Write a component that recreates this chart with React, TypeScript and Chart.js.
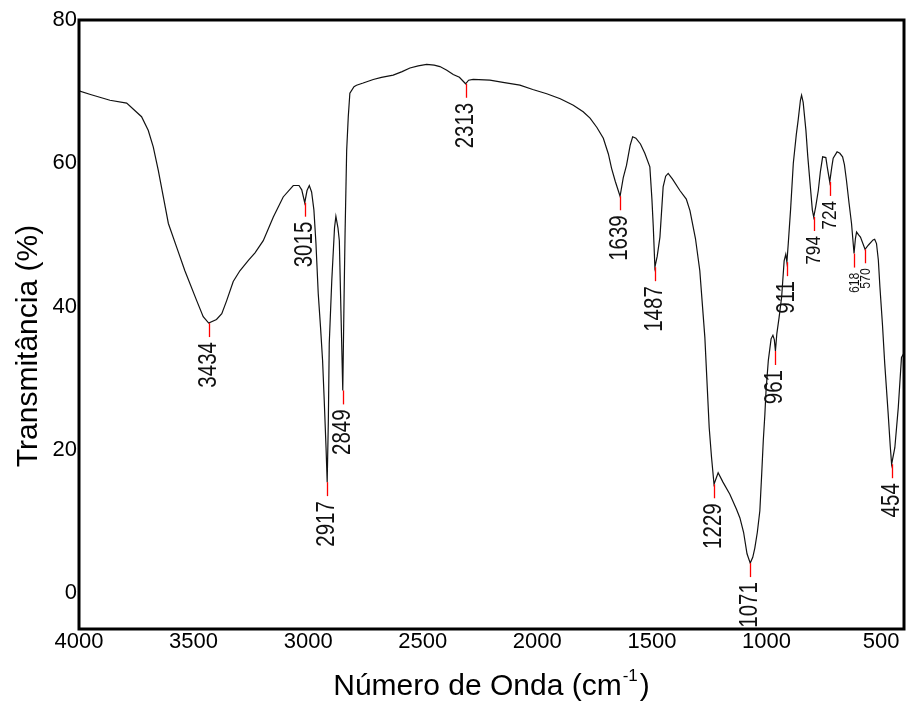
import React, { useEffect, useRef } from 'react';
import { Chart, registerables } from 'chart.js';

Chart.register(...registerables);

// Wavenumber (cm-1), descending
const wavenumbers = [
  4000, 3950, 3865, 3792, 3727, 3698, 3676, 3654, 3632, 3610, 3574, 3538, 3486, 3458, 3434, 3400, 3377,
  3356, 3327, 3298, 3260, 3232, 3196, 3152, 3109, 3065, 3040, 3028, 3015, 3005, 2995, 2985, 2975, 2966,
  2956, 2946, 2937, 2930, 2922, 2917, 2912, 2908, 2897, 2885, 2879, 2870, 2864, 2857, 2849, 2843, 2839,
  2832, 2825, 2818, 2800, 2789, 2760, 2716, 2680, 2629, 2590, 2556, 2520, 2483, 2450, 2425, 2395, 2367,
  2340, 2313, 2300, 2280, 2207, 2150, 2076, 2020, 1959, 1900, 1843, 1800, 1770, 1740, 1712, 1690, 1676,
  1660, 1639, 1625, 1611, 1595, 1584, 1570, 1550, 1531, 1509, 1500, 1494, 1487, 1477, 1465, 1451, 1440,
  1429, 1410, 1378, 1350, 1334, 1310, 1291, 1269, 1250, 1240, 1229, 1211, 1190, 1160, 1131, 1116, 1100,
  1085, 1071, 1060, 1051, 1040, 1029, 1021, 1014, 1007, 1002, 992, 980, 972, 966, 961, 955, 945, 934,
  923, 916, 911, 905, 895, 883, 870, 862, 852, 847, 840, 828, 820, 811, 800, 794, 785, 774, 765, 755,
  741, 735, 724, 715, 709, 692, 680, 668, 660, 651, 640, 629, 618, 612, 607, 598, 590, 570, 555, 535,
  528, 520, 512, 505, 494, 484, 469, 460, 454, 440, 425, 411, 400,
];

// Transmittance (%)
const transmittance = [
  70.1, 69.6, 68.8, 68.4, 66.5, 64.6, 62.3, 59.0, 55.3, 51.6, 48.3, 45.0, 40.8, 38.6, 37.7, 38.2, 39.0,
  40.8, 43.5, 45.0, 46.5, 47.5, 49.2, 52.5, 55.3, 56.9, 56.9, 56.3, 54.5, 56.2, 56.9, 56.0, 53.5, 48.8,
  41.8, 37.1, 32.4, 27.0, 20.3, 15.5, 24.0, 34.8, 43.6, 51.0, 52.6, 51.0, 49.2, 39.4, 28.3, 42.0, 50.2,
  61.8, 66.5, 69.8, 70.7, 70.9, 71.2, 71.7, 72.0, 72.3, 72.8, 73.3, 73.6, 73.8, 73.7, 73.5, 73.0, 72.4,
  72.0, 71.1, 71.6, 71.7, 71.6, 71.3, 70.9, 70.3, 69.7, 69.0, 68.1, 67.2, 66.3, 65.0, 63.5, 61.3, 59.3,
  57.5, 55.4, 58.0, 59.7, 62.5, 63.7, 63.5, 62.7, 61.4, 59.5, 55.0, 51.1, 45.5, 47.0, 49.7, 56.7, 58.2,
  58.6, 57.8, 56.2, 55.0, 53.4, 49.5, 45.0, 35.7, 23.1, 19.0, 15.2, 16.8, 15.5, 13.8, 11.7, 10.5, 8.5,
  5.5, 4.2, 5.0, 6.3, 8.5, 11.5, 16.6, 21.3, 25.0, 28.3, 32.5, 35.5, 36.0, 35.4, 33.8, 36.2, 38.5, 41.3,
  46.4, 47.3, 46.2, 48.8, 53.5, 60.0, 64.0, 66.0, 68.8, 69.5, 68.5, 64.6, 61.0, 57.6, 53.5, 52.5, 54.0, 56.2, 58.8, 60.9,
  60.8, 59.5, 57.4, 59.5, 60.7, 61.6, 61.4, 60.9, 59.8, 57.6, 54.5, 51.6, 47.4, 49.5, 50.4, 50.0, 49.7, 48.0, 48.6, 49.3,
  49.4, 48.8, 46.5, 42.7, 37.5, 32.0, 25.0, 20.5, 18.0, 20.3, 25.9, 32.9, 33.5,
];

// Annotated bands
const peakLabels = [3434, 3015, 2917, 2849, 2313, 1639, 1487, 1229, 1071, 961, 911, 794, 724, 618, 570, 454];

const xTicks = [4000, 3500, 3000, 2500, 2000, 1500, 1000, 500];
const yTicks = [0, 20, 40, 60, 80];

const xTitle = 'Número de Onda (cm';
const xTitleSup = '-1';
const xTitleEnd = ')';
const yTitle = 'Transmitância (%)';

const FONT = '"Liberation Sans", Arial, sans-serif';
const smallPeaks = new Set([618, 570]);
const mediumPeaks = new Set([794, 724]);

const decorPlugin = {
  id: 'decor',
  afterDatasetsDraw(chart: any) {
    const { ctx, scales } = chart;
    const xs = scales.x;
    const ys = scales.y;
    ctx.save();
    peakLabels.forEach((p) => {
      const i = wavenumbers.indexOf(p);
      if (i < 0) return;
      const px = Math.round(xs.getPixelForValue(p)) + 0.5;
      const py = ys.getPixelForValue(transmittance[i]);
      ctx.strokeStyle = '#ff0000';
      ctx.lineWidth = 1.3;
      ctx.beginPath();
      ctx.moveTo(px, py);
      ctx.lineTo(px, py + 14);
      ctx.stroke();
      const size = smallPeaks.has(p) ? 15 : mediumPeaks.has(p) ? 21 : 25;
      ctx.save();
      ctx.translate(px, py + 19);
      ctx.rotate(-Math.PI / 2);
      ctx.scale(0.82, 1);
      ctx.font = `${size}px ${FONT}`;
      ctx.fillStyle = '#111';
      ctx.textAlign = 'right';
      ctx.textBaseline = 'middle';
      ctx.fillText(String(p), 0, 0);
      ctx.restore();
    });
    ctx.restore();
  },
  afterDraw(chart: any) {
    const { ctx, chartArea } = chart;
    ctx.save();
    ctx.strokeStyle = '#000';
    ctx.lineWidth = 3;
    ctx.strokeRect(chartArea.left, chartArea.top, chartArea.right - chartArea.left, chartArea.bottom - chartArea.top);

    ctx.fillStyle = '#000';
    ctx.textBaseline = 'alphabetic';
    ctx.textAlign = 'left';
    const mainFont = `30px ${FONT}`;
    const supFont = `17px ${FONT}`;
    ctx.font = mainFont;
    const w1 = ctx.measureText(xTitle).width;
    const w3 = ctx.measureText(xTitleEnd).width;
    ctx.font = supFont;
    const w2 = ctx.measureText(xTitleSup).width;
    const total = w1 + w2 + w3 + 3;
    const cx = (chartArea.left + chartArea.right) / 2;
    const x0 = cx - total / 2;
    const base = 695;
    ctx.font = mainFont;
    ctx.fillText(xTitle, x0, base);
    ctx.font = supFont;
    ctx.fillText(xTitleSup, x0 + w1 + 1, base - 14);
    ctx.font = mainFont;
    ctx.fillText(xTitleEnd, x0 + w1 + w2 + 3, base);

    ctx.save();
    ctx.translate(37, 346);
    ctx.rotate(-Math.PI / 2);
    ctx.font = `30px ${FONT}`;
    ctx.textAlign = 'center';
    ctx.textBaseline = 'alphabetic';
    ctx.fillText(yTitle, 0, 0);
    ctx.restore();
    ctx.restore();
  },
};

export default function App() {
  const canvasRef = useRef<HTMLCanvasElement | null>(null);

  useEffect(() => {
    if (!canvasRef.current) return;
    const data = wavenumbers.map((w, i) => ({ x: w, y: transmittance[i] }));
    const chart = new Chart(canvasRef.current, {
      type: 'line',
      data: {
        datasets: [
          {
            data,
            borderColor: '#111',
            borderWidth: 1.2,
            pointRadius: 0,
            tension: 0,
            fill: false,
          },
        ],
      },
      options: {
        animation: false,
        responsive: false,
        parsing: false,
        layout: { padding: { top: 20, right: 2, left: 0, bottom: 0 } },
        plugins: { legend: { display: false }, tooltip: { enabled: false } },
        scales: {
          x: {
            type: 'linear',
            reverse: true,
            min: 400,
            max: 4000,
            grid: { display: false, drawTicks: false },
            border: { display: false },
            afterBuildTicks: (s: any) => {
              s.ticks = xTicks.map((v) => ({ value: v }));
            },
            afterFit: (s: any) => {
              s.height = 78;
            },
            ticks: {
              color: '#000',
              font: { size: 22, family: FONT },
              padding: 0,
              maxRotation: 0,
              autoSkip: false,
              callback: (v: any) => String(v),
            },
          },
          y: {
            type: 'linear',
            min: -5,
            max: 80,
            grid: { display: false, drawTicks: false },
            border: { display: false },
            afterBuildTicks: (s: any) => {
              s.ticks = yTicks.map((v) => ({ value: v }));
            },
            afterFit: (s: any) => {
              s.width = 79;
            },
            ticks: {
              color: '#000',
              font: { size: 22, family: FONT },
              padding: 2,
              autoSkip: false,
              callback: (v: any) => String(v),
            },
          },
        },
      },
      plugins: [decorPlugin],
    });
    return () => chart.destroy();
  }, []);

  return (
    <div style={{ position: 'absolute', left: 0, top: 0, width: 906, height: 707, background: '#fff' }}>
      <canvas ref={canvasRef} width={906} height={707} style={{ display: 'block' }} />
    </div>
  );
}
